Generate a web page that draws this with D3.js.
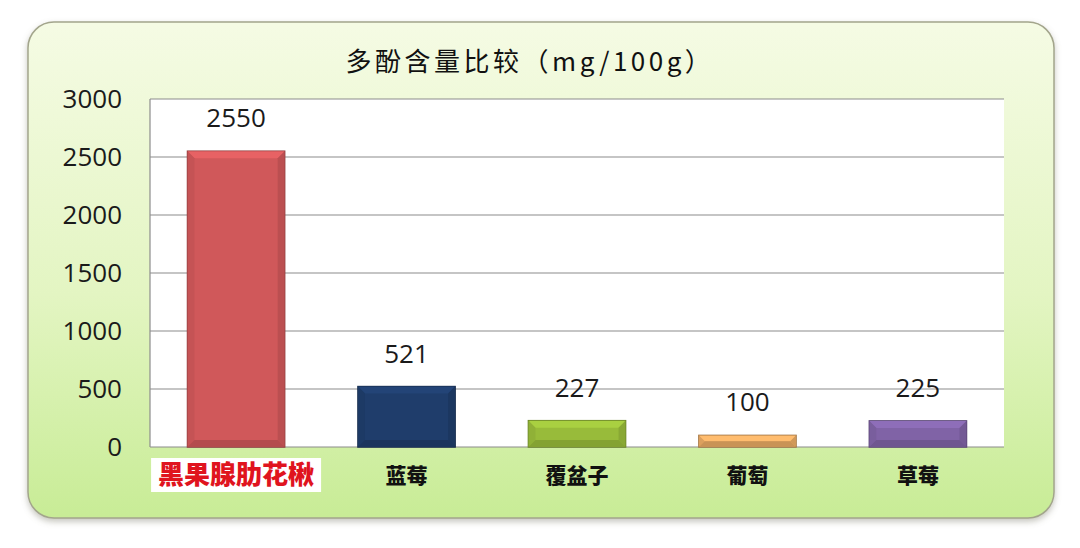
<!DOCTYPE html>
<html>
<head>
<meta charset="utf-8">
<script src="https://cdn.jsdelivr.net/npm/d3@7"></script>
<style>
  html, body { margin: 0; padding: 0; background: #ffffff; }
</style>
</head>
<body>
<svg id="chart"></svg>
<script>
// Data
const categories = ["黑果腺肋花楸", "蓝莓", "覆盆子", "葡萄", "草莓"];
const values = [2550, 521, 227, 100, 225];
const barColors = ["#d0585a", "#1f3d6b", "#98bb3a", "#e8a963", "#8063a6"];
const yTicks = [0, 500, 1000, 1500, 2000, 2500, 3000];
const title = "多酚含量比较（mg/100g）";

const width = 1080, height = 548;
const svg = d3.select("#chart").attr("width", width).attr("height", height);

const plot = { left: 150, right: 1004, top: 99, bottom: 447 };

const defs = svg.append("defs");

// panel background gradient
const bg = defs.append("linearGradient").attr("id", "bg")
    .attr("x1", 0).attr("y1", 0).attr("x2", 0).attr("y2", 1);
bg.append("stop").attr("offset", "0%").attr("stop-color", "#f5fbe4");
bg.append("stop").attr("offset", "55%").attr("stop-color", "#e3f5c2");
bg.append("stop").attr("offset", "100%").attr("stop-color", "#c8ec96");

const shadow = defs.append("filter").attr("id", "shadow")
    .attr("x", "-5%").attr("y", "-5%").attr("width", "110%").attr("height", "115%");
shadow.append("feDropShadow").attr("dx", 0).attr("dy", 3).attr("stdDeviation", 3)
    .attr("flood-color", "#808070").attr("flood-opacity", 0.45);

// outer panel
svg.append("rect")
    .attr("x", 28).attr("y", 22)
    .attr("width", 1026).attr("height", 496)
    .attr("rx", 26).attr("ry", 26)
    .attr("fill", "url(#bg)")
    .attr("stroke", "#a3a58c")
    .attr("stroke-width", 1.5)
    .attr("filter", "url(#shadow)");

// scales
const x = d3.scaleBand()
    .domain(categories)
    .range([plot.left, plot.right])
    .paddingInner(0.43)
    .paddingOuter(0.22);

const y = d3.scaleLinear()
    .domain([0, 3000])
    .range([plot.bottom, plot.top]);

// plot area
svg.append("rect")
    .attr("x", plot.left).attr("y", plot.top)
    .attr("width", plot.right - plot.left).attr("height", plot.bottom - plot.top)
    .attr("fill", "#ffffff");

// gridlines
svg.append("g")
    .selectAll("line")
    .data(yTicks)
    .join("line")
    .attr("x1", plot.left).attr("x2", plot.right)
    .attr("y1", d => y(d)).attr("y2", d => y(d))
    .attr("stroke", "#8c8c8c")
    .attr("stroke-width", 1.2);

svg.append("line")
    .attr("x1", plot.left).attr("x2", plot.left)
    .attr("y1", plot.top).attr("y2", plot.bottom)
    .attr("stroke", "#8c8c8c").attr("stroke-width", 1.2);

// y axis labels
const yAxis = d3.axisLeft(y).tickValues(yTicks).tickFormat(d3.format("d"))
    .tickSize(0).tickPadding(28);
const gy = svg.append("g").attr("transform", `translate(${plot.left},0)`).call(yAxis);
gy.select(".domain").remove();
gy.selectAll("text")
    .attr("font-family", "'Open Sans', sans-serif")
    .attr("font-size", 26)
    .attr("fill", "#1a1a1a");

// bevelled bars
const bars = svg.append("g")
    .selectAll("g")
    .data(categories.map((c, i) => ({ c, v: values[i], col: barColors[i] })))
    .join("g");

bars.append("rect")
    .attr("x", d => x(d.c))
    .attr("y", d => y(d.v))
    .attr("width", x.bandwidth())
    .attr("height", d => y(0) - y(d.v))
    .attr("fill", d => d.col)
    .attr("stroke", d => d3.color(d.col).darker(1))
    .attr("stroke-width", 1.5);

const bev = 7;
// top bevel (lighter)
bars.append("path")
    .attr("d", d => {
        const x0 = x(d.c), x1 = x0 + x.bandwidth(), t = y(d.v);
        const b = Math.min(bev, (y(0) - t) / 2);
        return `M${x0},${t}L${x1},${t}L${x1 - b},${t + b}L${x0 + b},${t + b}Z`;
    })
    .attr("fill", d => d3.color(d.col).brighter(0.3));

// side bevels (slightly darker)
bars.append("path")
    .attr("d", d => {
        const x0 = x(d.c), t = y(d.v), bt = y(0);
        const b = Math.min(bev, (bt - t) / 2);
        return `M${x0},${t}L${x0 + b},${t + b}L${x0 + b},${bt - b}L${x0},${bt}Z`;
    })
    .attr("fill", d => d3.color(d.col).darker(0.15));

bars.append("path")
    .attr("d", d => {
        const x1 = x(d.c) + x.bandwidth(), t = y(d.v), bt = y(0);
        const b = Math.min(bev, (bt - t) / 2);
        return `M${x1},${t}L${x1 - b},${t + b}L${x1 - b},${bt - b}L${x1},${bt}Z`;
    })
    .attr("fill", d => d3.color(d.col).darker(0.3));

// bottom bevel
bars.append("path")
    .attr("d", d => {
        const x0 = x(d.c), x1 = x0 + x.bandwidth(), t = y(d.v), bt = y(0);
        const b = Math.min(bev, (bt - t) / 2);
        return `M${x0},${bt}L${x0 + b},${bt - b}L${x1 - b},${bt - b}L${x1},${bt}Z`;
    })
    .attr("fill", d => d3.color(d.col).darker(0.4));

// value labels
bars.append("text")
    .attr("x", d => x(d.c) + x.bandwidth() / 2)
    .attr("y", d => y(d.v) - 24)
    .attr("text-anchor", "middle")
    .attr("font-family", "'Open Sans', sans-serif")
    .attr("font-size", 26)
    .attr("fill", "#1a1a1a")
    .text(d => d.v);

// category labels
const cat = svg.append("g")
    .selectAll("g")
    .data(categories)
    .join("g")
    .attr("transform", d => `translate(${x(d) + x.bandwidth() / 2},475)`);

cat.filter((d, i) => i === 0)
    .append("rect")
    .attr("x", -85).attr("y", -17)
    .attr("width", 170).attr("height", 34)
    .attr("fill", "#ffffff");

cat.append("text")
    .attr("text-anchor", "middle")
    .attr("dy", "0.36em")
    .attr("font-family", "'Noto Sans CJK SC', sans-serif")
    .attr("font-weight", 900)
    .attr("font-size", (d, i) => i === 0 ? 26 : 21)
    .attr("fill", (d, i) => i === 0 ? "#e0141e" : "#111111")
    .text(d => d);

// title
svg.append("text")
    .attr("x", 530)
    .attr("y", 62)
    .attr("text-anchor", "middle")
    .attr("dy", "0.36em")
    .attr("font-family", "'Noto Sans CJK SC', sans-serif")
    .attr("font-size", 26)
    .attr("letter-spacing", 3.5)
    .attr("fill", "#111111")
    .text(title);
</script>
</body>
</html>
